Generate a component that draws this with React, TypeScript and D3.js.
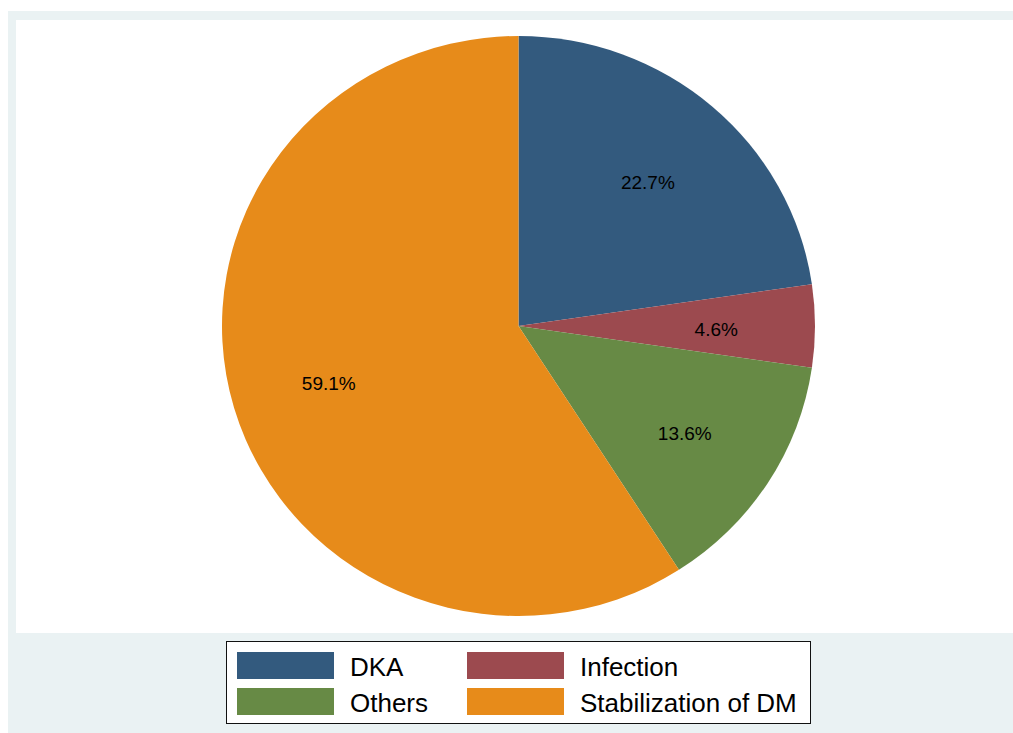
import React from "react";
import * as d3 from "d3";

// Reasons for admission, percent of cases
const categories = ["DKA", "Infection", "Others", "Stabilization of DM"];
const shares = [22.7, 4.6, 13.6, 59.1];
const colors = ["#335a7e", "#9c4a4f", "#678a45", "#e78b1a"];

const W = 1013;
const H = 733;
const FONT = "'Liberation Sans', Arial, Helvetica, sans-serif";

export default function App() {
  const cx = 518.5;
  const cy = 326;
  const r = 290;
  const sx = 296.5 / 290; // slight horizontal stretch of the disc

  const pie = d3
    .pie<number>()
    .sort(null)
    .value((d) => d)
    .startAngle(0)
    .endAngle(2 * Math.PI);
  const arcs = pie(shares);
  const arc = d3.arc<d3.PieArcDatum<number>>().innerRadius(0).outerRadius(r);
  const labelArc = d3
    .arc<d3.PieArcDatum<number>>()
    .innerRadius(r * 0.667)
    .outerRadius(r * 0.667);

  // legend layout: 2 columns x 2 rows
  const legX = 226.5;
  const legY = 641.5;
  const colX = [237, 467];
  const rowY = [652, 688];

  return (
    <svg
      width={W}
      height={H}
      style={{ position: "absolute", left: 0, top: 0, display: "block" }}
    >
      <rect x={8} y={11} width={W - 8} height={H - 11} fill="#eaf2f3" />
      <rect x={16} y={20} width={W - 16} height={613} fill="#ffffff" />

      <g transform={`translate(${cx},${cy}) scale(${sx},1)`}>
        {arcs.map((a, i) => (
          <path key={categories[i]} d={arc(a) || ""} fill={colors[i]} />
        ))}
      </g>
      <g transform={`translate(${cx},${cy})`}>
        {arcs.map((a, i) => {
          const [lx, ly] = labelArc.centroid(a);
          return (
            <text
              key={categories[i]}
              x={lx * sx}
              y={ly + 3}
              textAnchor="middle"
              dominantBaseline="central"
              fontFamily={FONT}
              fontSize={19}
              fill="#000"
            >
              {shares[i].toFixed(1)}%
            </text>
          );
        })}
      </g>

      <rect
        x={legX}
        y={legY}
        width={584}
        height={82}
        fill="#ffffff"
        stroke="#111"
        strokeWidth={1}
      />
      {categories.map((c, i) => {
        const col = i % 2;
        const row = Math.floor(i / 2);
        return (
          <g key={c}>
            <rect
              x={colX[col]}
              y={rowY[row]}
              width={97}
              height={27}
              fill={colors[i]}
            />
            <text
              x={colX[col] + 113}
              y={rowY[row] + 24}
              fontFamily={FONT}
              fontSize={26}
              fill="#000"
            >
              {c}
            </text>
          </g>
        );
      })}
    </svg>
  );
}
